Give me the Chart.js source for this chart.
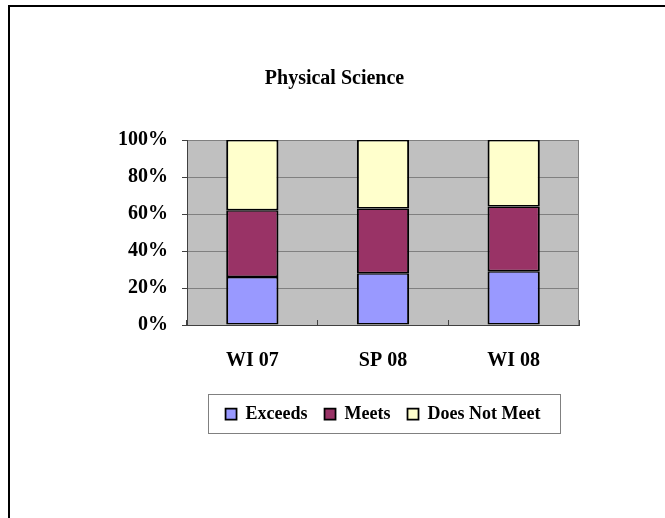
<!DOCTYPE html>
<html>
<head>
<meta charset="utf-8">
<script src="https://cdn.jsdelivr.net/npm/chart.js@4/dist/chart.umd.min.js"></script>
<style>
  html, body { margin: 0; padding: 0; background: #fff; }
  #wrap { position: relative; width: 665px; height: 518px; overflow: hidden; }
  #frame { position: absolute; left: 8px; top: 5px; right: -10px; bottom: -10px;
           border-left: 2px solid #000; border-top: 2px solid #000; }
  canvas { position: absolute; left: 0; top: 0; }
</style>
</head>
<body>
<div id="wrap">
  <div id="frame"></div>
  <canvas id="chart"></canvas>
</div>
<script>
const terms = ["WI 07", "SP 08", "WI 08"];
const exceeds = [26, 28, 29];
const meets = [36, 35, 35];
const doesNotMeet = [38, 37, 36];
const yTicks = [0, 20, 40, 60, 80, 100];

const serif = "'Liberation Serif', 'Times New Roman', serif";

// grey plot area + outline, like the old Excel chart
const plotBackground = {
  id: "plotBackground",
  beforeDraw(chart) {
    const { ctx, chartArea: a } = chart;
    ctx.save();
    ctx.fillStyle = "#c0c0c0";
    ctx.fillRect(a.left, a.top, a.right - a.left, a.bottom - a.top);
    ctx.restore();
  },
  beforeDatasetsDraw(chart) {
    const { ctx, chartArea: a } = chart;
    ctx.save();
    ctx.strokeStyle = "#808080";
    ctx.lineWidth = 1;
    ctx.beginPath();
    ctx.moveTo(a.right - 0.5, a.top);
    ctx.lineTo(a.right - 0.5, a.bottom);
    ctx.stroke();
    ctx.restore();
  },
};

// box round the legend (placed from the legend's own hit boxes)
const legendBox = {
  id: "legendBox",
  afterDraw(chart) {
    const lg = chart.legend;
    if (!lg || !lg.legendHitBoxes.length) return;
    const boxes = lg.legendHitBoxes;
    const first = boxes[0];
    const last = boxes[boxes.length - 1];
    const mid = first.top + first.height / 2;
    const x1 = first.left - 18;
    const x2 = last.left + last.width + 19;
    const y1 = mid - 20;
    const y2 = mid + 19;
    const { ctx } = chart;
    ctx.save();
    ctx.strokeStyle = "#808080";
    ctx.lineWidth = 1;
    ctx.strokeRect(Math.round(x1) + 0.5, Math.round(y1) + 0.5, Math.round(x2 - x1), Math.round(y2 - y1));
    ctx.restore();
  },
};

new Chart(document.getElementById("chart"), {
  type: "bar",
  data: {
    labels: terms,
    datasets: [
      { label: "Exceeds", data: exceeds, backgroundColor: "#9999ff" },
      { label: "Meets", data: meets, backgroundColor: "#993366" },
      { label: "Does Not Meet", data: doesNotMeet, backgroundColor: "#ffffcc" },
    ].map((d) => ({
      ...d,
      borderColor: "#000",
      borderWidth: { top: 1.5, bottom: 1.5, left: 2, right: 2 },
      borderSkipped: false,
      categoryPercentage: 1,
      barPercentage: 0.4,
    })),
  },
  options: {
    responsive: true,
    maintainAspectRatio: false,
    animation: false,
    layout: { padding: { left: 90, right: 86, top: 0, bottom: 85 } },
    plugins: {
      tooltip: { enabled: false },
      title: {
        display: true,
        text: "Physical Science",
        color: "#000",
        font: { family: serif, size: 20, weight: "bold" },
        padding: { top: 67, bottom: 49 },
      },
      legend: {
        position: "bottom",
        fullSize: false,
        labels: {
          color: "#000",
          font: { family: serif, size: 18, weight: "bold" },
          boxWidth: 11,
          boxHeight: 11,
          padding: 17,
        },
      },
    },
    scales: {
      x: {
        stacked: true,
        afterFit(scale) { scale.height = 63; },
        grid: { display: true, drawOnChartArea: false, tickLength: -5, color: "#404040" },
        border: { color: "#404040", width: 1 },
        ticks: {
          color: "#000",
          padding: 29,
          font: { family: serif, size: 20, weight: "bold" },
        },
      },
      y: {
        stacked: true,
        min: 0,
        max: 100,
        afterFit(scale) { scale.width = 97; },
        afterBuildTicks(scale) { scale.ticks = yTicks.map((v) => ({ value: v })); },
        grid: { color: "#808080", tickColor: "#404040", tickLength: 5 },
        border: { color: "#404040", width: 1 },
        ticks: {
          color: "#000",
          padding: 14,
          font: { family: serif, size: 20, weight: "bold" },
          callback: (v) => v + "%",
        },
      },
    },
  },
  plugins: [plotBackground, legendBox],
});
</script>
</body>
</html>
